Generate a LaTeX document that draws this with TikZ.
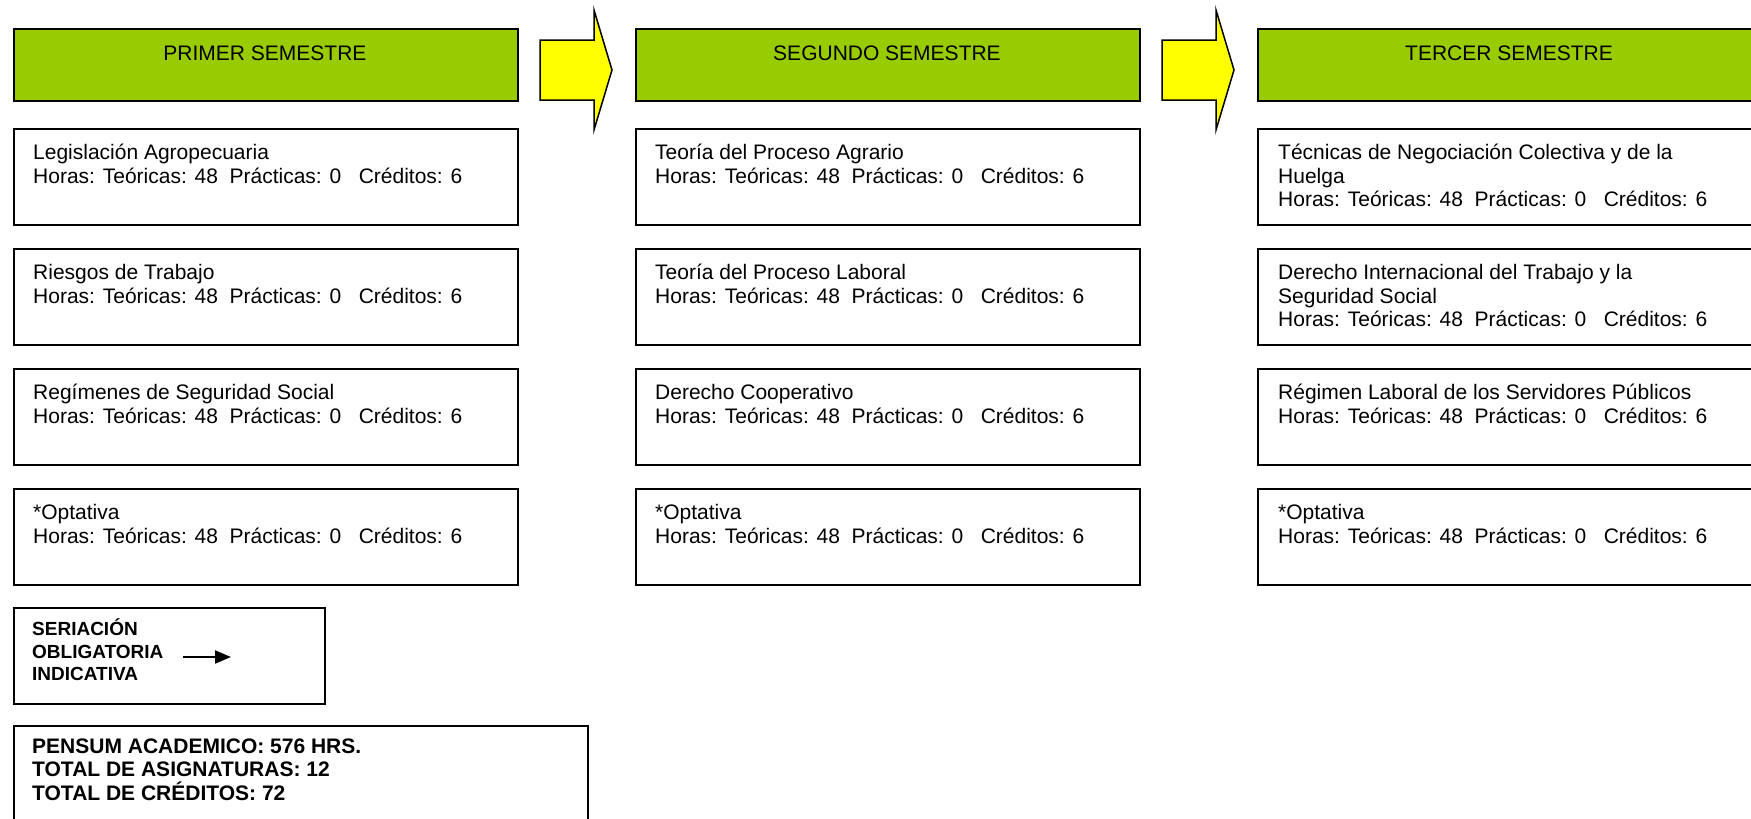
\documentclass[tikz,border=0pt]{standalone}
\usepackage{fontspec}
\setmainfont{Liberation Sans}
\usetikzlibrary{arrows.meta}
\definecolor{hdrgreen}{HTML}{99CC00}
\definecolor{arrowyellow}{HTML}{FFFF00}
\begin{document}
\begin{tikzpicture}[x=1pt,y=-1pt,
  hdr/.style={draw, line width=1.5pt, fill=hdrgreen, minimum width=504pt, minimum height=72pt, anchor=north west, inner sep=0pt},
  course/.style={draw, line width=1.5pt, fill=white, minimum width=504pt, minimum height=96pt, anchor=north west, inner sep=0pt},
  ctext/.style={anchor=base west, inner sep=0pt, align=left, font=\fontsize{21}{23.5}\selectfont},
  htext/.style={anchor=base, inner sep=0pt, font=\fontsize{21}{23.5}\selectfont},
  legtext/.style={anchor=base west, inner sep=0pt, align=left, font=\fontsize{19}{22.5}\selectfont\bfseries},
  pentext/.style={anchor=base west, inner sep=0pt, align=left, font=\fontsize{21}{23.5}\selectfont\bfseries},
  bigarrow/.style={draw, line width=1.5pt, fill=arrowyellow, line join=miter}]
\useasboundingbox (0,0) rectangle (1751,819);
\clip (0,0) rectangle (1751,819);
\fill[white] (0,0) rectangle (1751,819);

% headers
\node[hdr] (h1) at (13,28) {};
\node[hdr] (h2) at (635,28) {};
\node[hdr] (h3) at (1257,28) {};
\node[htext] (h1t) at (265,60) {PRIMER SEMESTRE};
\node[htext] (h2t) at (887,60) {SEGUNDO SEMESTRE};
\node[htext] (h3t) at (1509,60) {TERCER SEMESTRE};

% big arrows
\draw[bigarrow] (540,40) -- (594,40) -- (594,10) -- (612,70) -- (594,130) -- (594,100) -- (540,100) -- cycle;
\draw[bigarrow] (1162,40) -- (1216,40) -- (1216,10) -- (1234,70) -- (1216,130) -- (1216,100) -- (1162,100) -- cycle;

% column 1 (base anchor = last line baseline)
\node[course] (a1) at (13,128) {};
\node[course] (a2) at (13,248) {};
\node[course] (a3) at (13,368) {};
\node[course] (a4) at (13,488) {};
\node[ctext] (a1t) at (33,183) {Legislación Agropecuaria\\Horas: Teóricas: 48\ \ Prácticas: 0\ \ \ Créditos: 6};
\node[ctext] (a2t) at (33,303) {Riesgos de Trabajo\\Horas: Teóricas: 48\ \ Prácticas: 0\ \ \ Créditos: 6};
\node[ctext] (a3t) at (33,423) {Regímenes de Seguridad Social\\Horas: Teóricas: 48\ \ Prácticas: 0\ \ \ Créditos: 6};
\node[ctext] (a4t) at (33,543) {*Optativa\\Horas: Teóricas: 48\ \ Prácticas: 0\ \ \ Créditos: 6};

% column 2
\node[course] (b1) at (635,128) {};
\node[course] (b2) at (635,248) {};
\node[course] (b3) at (635,368) {};
\node[course] (b4) at (635,488) {};
\node[ctext] (b1t) at (655,183) {Teoría del Proceso Agrario\\Horas: Teóricas: 48\ \ Prácticas: 0\ \ \ Créditos: 6};
\node[ctext] (b2t) at (655,303) {Teoría del Proceso Laboral\\Horas: Teóricas: 48\ \ Prácticas: 0\ \ \ Créditos: 6};
\node[ctext] (b3t) at (655,423) {Derecho Cooperativo\\Horas: Teóricas: 48\ \ Prácticas: 0\ \ \ Créditos: 6};
\node[ctext] (b4t) at (655,543) {*Optativa\\Horas: Teóricas: 48\ \ Prácticas: 0\ \ \ Créditos: 6};

% column 3
\node[course] (c1) at (1257,128) {};
\node[course] (c2) at (1257,248) {};
\node[course] (c3) at (1257,368) {};
\node[course] (c4) at (1257,488) {};
\node[ctext] (c1t) at (1278,206.5) {Técnicas de Negociación Colectiva y de la\\Huelga\\Horas: Teóricas: 48\ \ Prácticas: 0\ \ \ Créditos: 6};
\node[ctext] (c2t) at (1278,326.5) {Derecho Internacional del Trabajo y la\\Seguridad Social\\Horas: Teóricas: 48\ \ Prácticas: 0\ \ \ Créditos: 6};
\node[ctext] (c3t) at (1278,423) {Régimen Laboral de los Servidores Públicos\\Horas: Teóricas: 48\ \ Prácticas: 0\ \ \ Créditos: 6};
\node[ctext] (c4t) at (1278,543) {*Optativa\\Horas: Teóricas: 48\ \ Prácticas: 0\ \ \ Créditos: 6};

% legend
\node[draw, line width=1.5pt, minimum width=311pt, minimum height=96pt, anchor=north west, inner sep=0pt] (leg) at (13,607) {};
\node[legtext] (legt) at (32,680.5) {SERIACIÓN\\OBLIGATORIA\\INDICATIVA};
\coordinate (la) at (183,657);
\coordinate (lb) at (231,657);
\draw[line width=2pt, -{Triangle[length=16pt,width=13pt]}] (la) -- (lb);

% pensum
\node[draw, line width=1.5pt, minimum width=574pt, minimum height=130pt, anchor=north west, inner sep=0pt] (pen) at (13,725) {};
\node[pentext] (pent) at (32,800) {PENSUM ACADEMICO: 576 HRS.\\TOTAL DE ASIGNATURAS: 12\\TOTAL DE CRÉDITOS: 72};
\end{tikzpicture}
\end{document}
